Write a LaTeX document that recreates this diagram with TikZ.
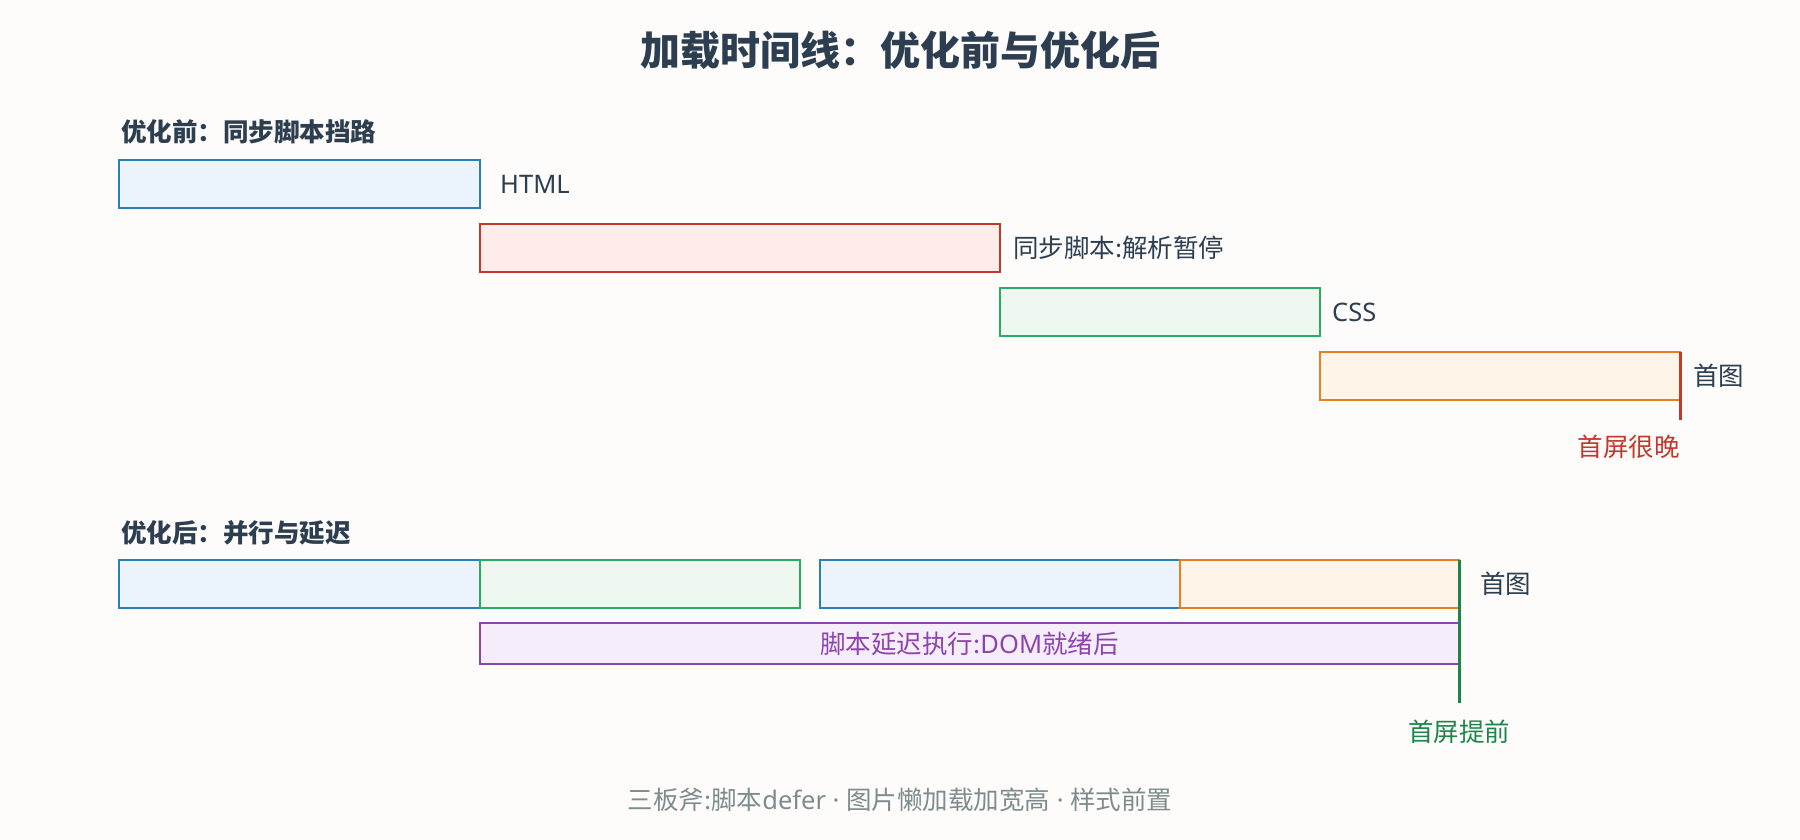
\documentclass[tikz,border=0pt]{standalone}
\usepackage{fontspec}
\setmainfont{Noto Sans CJK SC}
\newfontfamily\latinfont{Noto Sans}
\usetikzlibrary{positioning}

\definecolor{bgpaper}{RGB}{253,252,250}
\definecolor{textdark}{HTML}{2C3E50}
\definecolor{footgray}{HTML}{7F8C8D}
\definecolor{htmlline}{HTML}{2980B9}
\definecolor{htmlfill}{HTML}{EBF3FD}
\definecolor{syncline}{HTML}{C0392B}
\definecolor{syncfill}{HTML}{FDECEA}
\definecolor{cssline}{HTML}{27AE60}
\definecolor{cssfill}{HTML}{EEF8F0}
\definecolor{imgline}{HTML}{E67E22}
\definecolor{imgfill}{HTML}{FEF4E8}
\definecolor{deferline}{HTML}{8E44AD}
\definecolor{deferfill}{HTML}{F5EDFA}
\definecolor{earlyline}{HTML}{1E8449}

\tikzset{
  bar/.style={draw, line width=2pt, inner sep=0pt, outer sep=0pt,
    anchor=north west, minimum height=48pt},
  lbl/.style={anchor=west, inner sep=0pt, text=textdark,
    font=\fontsize{25.5}{30}\selectfont},
  headlbl/.style={lbl, font=\fontsize{25.5}{30}\selectfont\bfseries},
  marker/.style={line width=3pt}
}

\begin{document}
\begin{tikzpicture}[x=1pt, y=-1pt]
    % Drawing the background
    \fill[bgpaper] (0,0) rectangle (1800,840);
    \useasboundingbox (0,0) rectangle (1800,840);

    % Drawing the title
    \node[inner sep=0pt, text=textdark, font=\fontsize{40}{46}\selectfont\bfseries] (title) at (900,50) {加载时间线：优化前与优化后};

    % Drawing the timeline before
    \node[headlbl] (beforeHead) at (121,132) {优化前：同步脚本挡路};
    \node[bar, draw=htmlline, fill=htmlfill, minimum width=361pt] (html) at (119,160) {};
    \node[lbl, right=20pt of html] (htmlLbl) {\latinfont HTML};
    \node[bar, draw=syncline, fill=syncfill, minimum width=520pt] (sync) at (480,224) {};
    \node[lbl, right=13pt of sync] (syncLbl) {同步脚本:解析暂停};
    \node[bar, draw=cssline, fill=cssfill, minimum width=320pt] (css) at (1000,288) {};
    \node[lbl, right=12pt of css] (cssLbl) {\latinfont CSS};
    \node[bar, draw=imgline, fill=imgfill, minimum width=360pt] (img) at (1320,352) {};
    \node[lbl, right=13pt of img] (imgLbl) {首图};

    % Drawing the late marker
    \coordinate (lateEnd) at (1680,420);
    \draw[marker, syncline] (img.north east) -- (lateEnd);
    \node[lbl, text=syncline, anchor=north east, below left=15pt and 0pt of lateEnd] (lateLbl) {首屏很晚};

    % Drawing the timeline after
    \node[headlbl] (afterHead) at (121,533) {优化后：并行与延迟};
    \node[bar, draw=htmlline, fill=htmlfill, minimum width=361pt] (htmlA) at (119,560) {};
    \node[bar, draw=cssline, fill=cssfill, minimum width=320pt, right=0pt of htmlA] (cssA) {};
    \node[bar, draw=htmlline, fill=htmlfill, minimum width=360pt, right=20pt of cssA] (htmlB) {};
    \node[bar, draw=imgline, fill=imgfill, minimum width=279pt, right=0pt of htmlB] (imgA) {};
    \node[lbl, right=21pt of imgA] (imgALbl) {首图};
    \node[bar, draw=deferline, fill=deferfill, minimum width=979pt, minimum height=41pt,
      text=deferline, font=\fontsize{25.5}{30}\selectfont] (defer) at (480,623) {脚本延迟执行:{\latinfont DOM}就绪后};

    % Drawing the early marker
    \coordinate (earlyEnd) at (1459,703);
    \draw[marker, earlyline] (imgA.north east) -- (earlyEnd);
    \node[lbl, text=earlyline, anchor=north, below=17pt of earlyEnd] (earlyLbl) {首屏提前};

    % Drawing the footer
    \node[inner sep=0pt, text=footgray, font=\fontsize{25.5}{30}\selectfont] (footer) at (900,800) {三板斧:脚本{\latinfont defer · }图片懒加载加宽高{\latinfont{} · }样式前置};
\end{tikzpicture}
\end{document}
